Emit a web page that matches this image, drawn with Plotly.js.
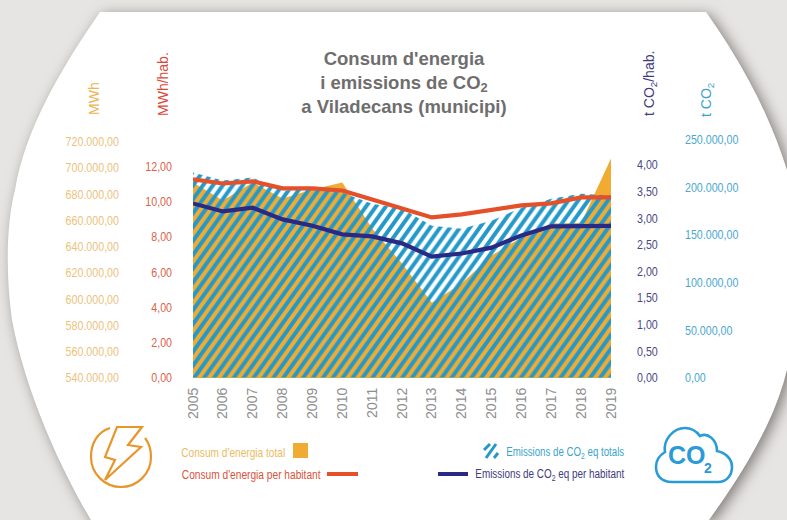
<!DOCTYPE html>
<html>
<head>
<meta charset="utf-8">
<script src="https://cdn.plot.ly/plotly-3.0.1.min.js"></script>
<style>html,body{margin:0;padding:0;background:#e7e5e3;overflow:hidden}</style>
</head>
<body>
<div id="chart" style="width:787px;height:520px"></div>
<script>
const years = [2005,2006,2007,2008,2009,2010,2011,2012,2013,2014,2015,2016,2017,2018,2019];
const energyTotal = [688700,675000,688700,676500,683400,688700,653600,627000,597000,611700,633000,646800,657500,658000,707000];
const energyPerHab = [11.26,11.03,11.15,10.75,10.75,10.63,10.12,9.61,9.10,9.27,9.55,9.78,9.90,10.24,10.24];
const co2Total = [215200,206800,209900,196200,198300,194100,182500,177200,159300,156100,164600,178300,187800,193000,191000];
const co2PerHab = [3.27,3.12,3.19,2.97,2.85,2.69,2.65,2.52,2.27,2.33,2.44,2.67,2.84,2.85,2.85];
const energyPerHabTicks = [0,2,4,6,8,10,12];
const co2PerHabTicks = [0,0.5,1,1.5,2,2.5,3,3.5,4];

const W = 787, H = 520;
const SANS = "'Liberation Sans',Arial,sans-serif";
const cOrange = '#f0ab32', cBlue = '#2499c9', cRed = '#e4502a', cNavy = '#2a2a85';
const fx = x => x / W, fy = y => 1 - y / H;
// convert a pixel path to paper coordinates
const P = s => s.replace(/(-?[\d.]+) (-?[\d.]+)/g, (m, a, b) => fx(+a).toFixed(5) + ' ' + fy(+b).toFixed(5));

const traces = [
  {x: years, y: energyTotal, yaxis: 'y', name: "Consum d'energia total", type: 'scatter', mode: 'none', fill: 'tozeroy', fillcolor: cOrange},
  {x: years, y: co2Total, yaxis: 'y2', name: 'Emissions de CO2 eq totals', type: 'scatter', mode: 'none', fill: 'tozeroy', fillcolor: 'rgba(0,0,0,0)',
   fillpattern: {shape: '/', size: 7, solidity: 0.5, fgcolor: cBlue, bgcolor: 'rgba(0,0,0,0)', fgopacity: 1}},
  {x: years, y: energyPerHab, yaxis: 'y3', name: "Consum d'energia per habitant", type: 'scatter', mode: 'lines', line: {color: cRed, width: 4.2}, cliponaxis: false},
  {x: years, y: co2PerHab, yaxis: 'y4', name: 'Emissions de CO2 eq per habitant', type: 'scatter', mode: 'lines', line: {color: cNavy, width: 4.2}, cliponaxis: false}
];

const yBase = {domain: [fy(378), fy(130)], showgrid: false, zeroline: false, showline: false, ticks: '', anchor: 'free', tickformat: ',.2f'};
const layout = {
  width: W, height: H, margin: {l: 0, r: 0, t: 0, b: 0, pad: 0},
  paper_bgcolor: '#e7e5e3', plot_bgcolor: 'rgba(0,0,0,0)',
  separators: ',.', showlegend: false, hovermode: false,
  title: {text: "Consum d'energia<br>i emissions de CO<sub>2</sub><br>a Viladecans (municipi)", x: 404/W, xanchor: 'center', y: 1-64.5/H, yanchor: 'top',
          font: {family: SANS, size: 18.5, color: '#6e6e6e', weight: 'bold'}},
  xaxis: {domain: [fx(193), fx(611)], range: [2005, 2019], tickmode: 'array', tickvals: years, ticktext: years.map(String), tickangle: -90,
          tickfont: {family: SANS, size: 14, color: '#8e8e8e'}, showgrid: false, zeroline: false, showline: false, ticks: '', ticklen: 0, ticklabelstandoff: 6},
  yaxis: Object.assign({}, yBase, {side: 'left', position: fx(119), range: [539600, 728800], tick0: 540000, dtick: 20000, tickfont: {family: SANS, size: 13.5, color: '#ecc27c'}}),
  yaxis2: Object.assign({}, yBase, {side: 'right', position: fx(684), overlaying: 'y', range: [-500, 259900], tick0: 0, dtick: 50000, tickfont: {family: SANS, size: 13.5, color: '#4aa8cf'}}),
  yaxis3: Object.assign({}, yBase, {side: 'left', position: fx(172), overlaying: 'y', range: [-0.03, 14.07], tickmode: 'array', tickvals: energyPerHabTicks, tickfont: {family: SANS, size: 13.5, color: '#d9634a'}}),
  yaxis4: Object.assign({}, yBase, {side: 'right', position: fx(636), overlaying: 'y', range: [-0.01, 4.65], tickmode: 'array', tickvals: co2PerHabTicks, tickfont: {family: SANS, size: 13.5, color: '#4a4688'}}),
  shapes: [
    {type: 'path', layer: 'below', xref: 'paper', yref: 'paper', fillcolor: '#ffffff', line: {width: 0},
     path: P('M 100 12 L 706 12 C 740 60 768 110 787 170 L 800 170 L 800 370 L 787 370 C 775 420 745 470 709 520 L 97 530 C 60 470 25 390 12 320 C 5 270 7 220 15 190 C 25 130 60 70 100 12 Z')},
    // lightning icon
    {type: 'path', xref: 'paper', yref: 'paper', line: {color: '#e8952b', width: 2.2},
     path: P('M 110 428 C 97 432 91 444 91 457 C 91 474 105 487 121 487 C 137 487 151 474 151 457 C 151 450 149 443 145 438')},
    {type: 'path', xref: 'paper', yref: 'paper', line: {color: '#e8952b', width: 2.2},
     path: P('M 117 427 L 142 427 L 128 445 L 141 447 L 105 480 L 115 460 L 105 457 Z')},
    // legend swatches
    {type: 'rect', xref: 'paper', yref: 'paper', x0: fx(293), x1: fx(308), y0: fy(458), y1: fy(443), fillcolor: cOrange, line: {width: 0}},
    {type: 'line', xref: 'paper', yref: 'paper', x0: fx(327), x1: fx(358), y0: fy(474), y1: fy(474), line: {color: cRed, width: 4}},
    {type: 'line', xref: 'paper', yref: 'paper', x0: fx(438), x1: fx(468), y0: fy(474), y1: fy(474), line: {color: cNavy, width: 4}},
    {type: 'line', xref: 'paper', yref: 'paper', x0: fx(484), x1: fx(490), y0: fy(450), y1: fy(444), line: {color: cBlue, width: 3}},
    {type: 'line', xref: 'paper', yref: 'paper', x0: fx(486), x1: fx(496), y0: fy(458), y1: fy(444), line: {color: cBlue, width: 3}},
    {type: 'line', xref: 'paper', yref: 'paper', x0: fx(494), x1: fx(498), y0: fy(458), y1: fy(453), line: {color: cBlue, width: 3}},
    // cloud icon
    {type: 'path', xref: 'paper', yref: 'paper', line: {color: '#2a9bd7', width: 2.6},
     path: P('M 672 482 C 660 482 656 474 656 467 C 656 460 660 455 665 452 C 663 440 673 428 685 428 C 692 428 697 432 700 436 C 708 432 717 440 717 451 C 726 453 732 459 732 467 C 732 476 726 482 718 482 Z')}
  ],
  annotations: [
    {text: 'MWh', x: 94, y: 99, angle: -90, size: 14, color: '#edb552'},
    {text: 'MWh/hab.', x: 163, y: 84, angle: -90, size: 14, color: '#d94a3c'},
    {text: 't CO<sub>2</sub>/hab.', x: 650, y: 84, angle: -90, size: 14, color: '#3f3b80'},
    {text: 't CO<sub>2</sub>', x: 707, y: 100, angle: -90, size: 14, color: '#3aa5cc'},
    {text: "Consum d'energia total", x: 233, y: 452, size: 13.5, color: '#ecbb62'},
    {text: "Consum d'energia per habitant", x: 250.5, y: 474, size: 13.5, color: '#d9533a'},
    {text: 'Emissions de CO<sub>2</sub> eq totals', x: 565, y: 452, size: 13.5, color: '#3aa5cc'},
    {text: 'Emissions de CO<sub>2</sub> eq per habitant', x: 549.5, y: 474, size: 13.5, color: '#3f3b80'},
    {text: '<b>CO</b>', x: 687, y: 455, size: 25, color: '#2a9bd7'},
    {text: '<b>2</b>', x: 708, y: 468, size: 14, color: '#2a9bd7'}
  ].map(a => ({text: a.text, xref: 'paper', yref: 'paper', x: fx(a.x), y: fy(a.y), showarrow: false,
               xanchor: 'center', yanchor: 'middle', textangle: a.angle || 0,
               font: {family: SANS, size: a.size, color: a.color}}))
};

Plotly.newPlot('chart', traces, layout, {displayModeBar: false, staticPlot: true}).then(() => {
  const bg = document.querySelector('.layer-below .shapelayer path');
  if (bg) bg.style.filter = 'drop-shadow(4px 3px 7px rgba(60,55,50,.6))';
  document.querySelectorAll('pattern').forEach(p => p.setAttribute('patternTransform', 'scale(1,1.4)'));
  // the source uses a condensed typeface: narrow the real text to its width
  const narrow = (t, w) => { t.setAttribute('textLength', w); t.setAttribute('lengthAdjust', 'spacingAndGlyphs'); };
  document.querySelectorAll('.ytick text, .y2tick text, .y3tick text, .y4tick text').forEach(t => narrow(t, t.getComputedTextLength() * 0.79));
  const targets = [["Consum d'energia total", 104], ["Consum d'energia per habitant", 139], ['eq totals', 118], ['eq per habitant', 149]];
  document.querySelectorAll('.annotation-text').forEach(t => {
    const hit = targets.find(e => t.textContent.includes(e[0]));
    if (hit) {
      // scale about the text's centre so that sub-script spans are narrowed too
      t.style.transformBox = 'fill-box';
      t.style.transformOrigin = 'center';
      t.style.transform = 'scaleX(' + (hit[1] / t.getComputedTextLength()) + ')';
    }
  });
});
</script>
</body>
</html>
